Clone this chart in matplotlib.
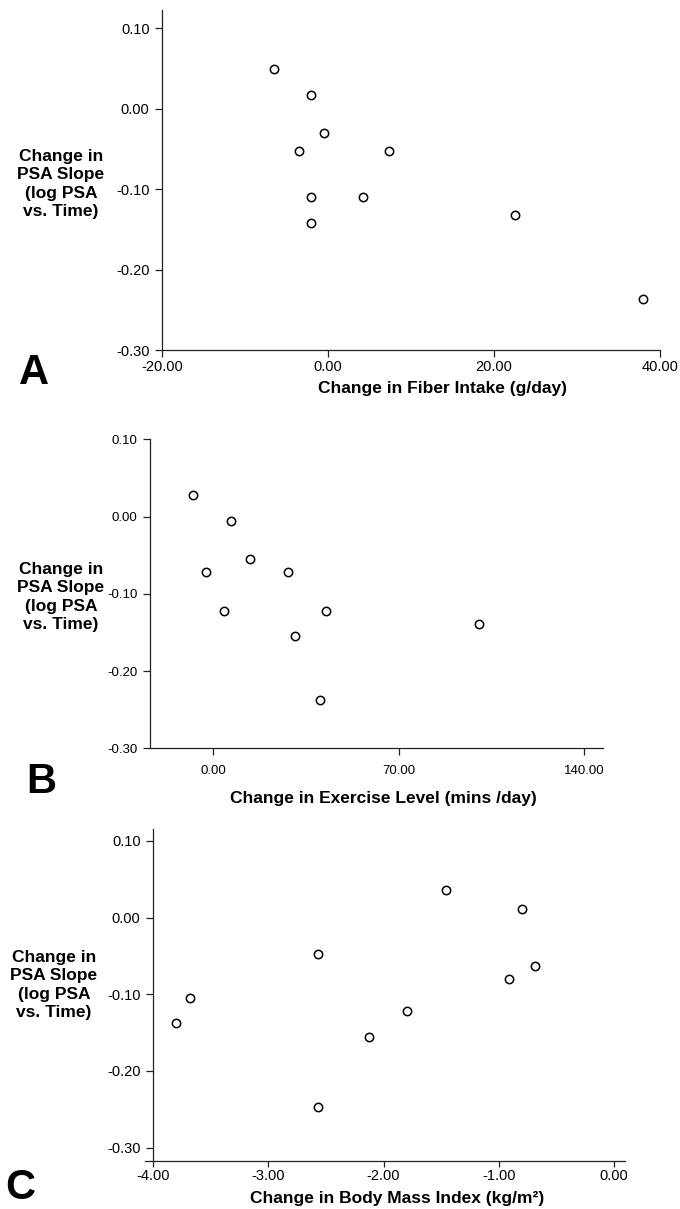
# PSA slope change vs lifestyle changes (panels A, B, C)

import matplotlib.pyplot as plt
from matplotlib.ticker import FixedLocator, FormatStrFormatter

plt.rcParams['font.family'] = ['Liberation Sans', 'DejaVu Sans']
plt.rcParams['axes.unicode_minus'] = False


# Panel A : fiber intake
fiber_change = [-6.55, -2.01, -0.44, -3.53, 7.30, -2.01, 4.22, -2.01, 22.57, 37.94]
psa_slope_a = [0.049, 0.017, -0.030, -0.053, -0.053, -0.110, -0.110, -0.142, -0.132, -0.236]

# Panel B : exercise level
exercise_change = [-7.6, 6.8, 13.9, -2.9, 28.3, 4.0, 42.5, 30.7, 100.4, 40.1]
psa_slope_b = [0.028, -0.006, -0.055, -0.071, -0.072, -0.122, -0.122, -0.155, -0.139, -0.238]

# Panel C : body mass index
bmi_change = [-3.80, -3.68, -2.57, -2.57, -2.13, -1.80, -1.46, -0.91, -0.80, -0.69]
psa_slope_c = [-0.138, -0.105, -0.047, -0.247, -0.156, -0.122, 0.0365, -0.080, 0.0108, -0.063]

yticks = [0.10, 0.00, -0.10, -0.20, -0.30]
xticks_a = [-20, 0, 20, 40]
xticks_b = [0, 70, 140]
xticks_c = [-4, -3, -2, -1, 0]

ylab = 'Change in\nPSA Slope\n(log PSA\nvs. Time)'

W, H = 680, 1209
fig = plt.figure(figsize=(W / 100, H / 100), dpi=100)


def box(l, r, t, b):
    # pixel box -> figure fractions
    return [l / W, 1 - b / H, (r - l) / W, (b - t) / H]


def style(ax, xt, tsize):
    for s in ['top', 'right']:
        ax.spines[s].set_visible(False)
    for s in ['left', 'bottom']:
        ax.spines[s].set_linewidth(0.9)
        ax.spines[s].set_color('#222222')
    ax.yaxis.set_major_locator(FixedLocator(yticks))
    ax.xaxis.set_major_locator(FixedLocator(xt))
    ax.yaxis.set_major_formatter(FormatStrFormatter('%.2f'))
    ax.xaxis.set_major_formatter(FormatStrFormatter('%.2f'))
    ax.tick_params(length=5, width=0.9, labelsize=tsize, pad=4, color='#222222')


def scatter(ax, x, y):
    ax.plot(x, y, 'o', ms=6, mfc='white', mec='black', mew=1.1, ls='none', clip_on=False)


# ---- A
axA = fig.add_axes(box(162, 660, 10, 350))
scatter(axA, fiber_change, psa_slope_a)
axA.set_xlim(-20, 40)
axA.set_ylim(-0.30, 0.123)
style(axA, xticks_a, 10.5)
axA.tick_params(axis='x', pad=2)

# ---- B
axB = fig.add_axes(box(150, 603, 439.5, 748.3))
scatter(axB, exercise_change, psa_slope_b)
axB.set_xlim(-23.9, 147.1)
axB.set_ylim(-0.30, 0.10)
style(axB, xticks_b, 9.5)
axB.tick_params(axis='x', pad=7)

# ---- C
axC = fig.add_axes(box(145, 625, 829.3, 1160.7))
scatter(axC, bmi_change, psa_slope_c)
axC.set_xlim(-4.07, 0.095)
axC.set_ylim(-0.317, 0.115)
axC.spines['left'].set_position(('data', -4.0))
style(axC, xticks_c, 10.5)
axC.tick_params(axis='x', length=4, pad=2)

# axis titles
lab = dict(fontsize=12.5, fontweight='bold', ha='center', va='center')
fig.text(61 / W, 1 - 184 / H, ylab, multialignment='center', linespacing=1.3, **lab)
fig.text(61 / W, 1 - 597 / H, ylab, multialignment='center', linespacing=1.3, **lab)
fig.text(54 / W, 1 - 985 / H, ylab, multialignment='center', linespacing=1.3, **lab)

fig.text(443 / W, 1 - 389 / H, 'Change in Fiber Intake (g/day)', **lab)
fig.text(383 / W, 1 - 798 / H, 'Change in Exercise Level (mins /day)', **lab)
fig.text(397 / W, 1 - 1198 / H, 'Change in Body Mass Index (kg/m²)', **lab)

# panel letters
let = dict(fontsize=30, fontweight='bold', ha='center', va='center')
fig.text(34 / W, 1 - 373 / H, 'A', **let)
fig.text(41 / W, 1 - 782 / H, 'B', **let)
fig.text(20 / W, 1 - 1188 / H, 'C', **let)

plt.savefig('out.png', dpi=100)
